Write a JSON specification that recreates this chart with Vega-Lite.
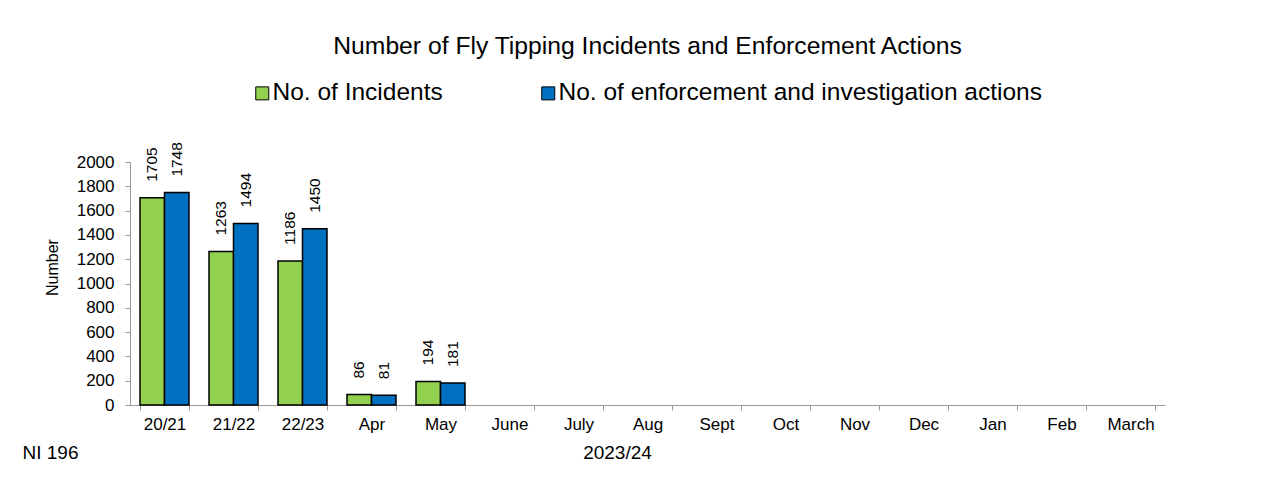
{
  "$schema": "https://vega.github.io/schema/vega-lite/v6.json",
  "width": 1035,
  "height": 243,
  "autosize": {"type": "none"},
  "padding": {"left": 130, "top": 162, "right": 117, "bottom": 80},
  "background": "white",
  "config": {
    "font": "Liberation Sans",
    "view": {"stroke": null},
    "axis": {"labelColor": "black", "titleColor": "black", "titleFontWeight": "normal", "domainColor": "#999999", "tickColor": "#999999", "grid": false}
  },
  "title": {"text": "Number of Fly Tipping Incidents and Enforcement Actions", "fontSize": 24.7, "fontWeight": "normal", "color": "black", "anchor": "middle", "frame": "group", "offset": 22},
  "data": {"values": [
    {"period": "20/21", "series": "No. of Incidents", "value": 1705},
    {"period": "20/21", "series": "No. of enforcement and investigation actions", "value": 1748},
    {"period": "21/22", "series": "No. of Incidents", "value": 1263},
    {"period": "21/22", "series": "No. of enforcement and investigation actions", "value": 1494},
    {"period": "22/23", "series": "No. of Incidents", "value": 1186},
    {"period": "22/23", "series": "No. of enforcement and investigation actions", "value": 1450},
    {"period": "Apr", "series": "No. of Incidents", "value": 86},
    {"period": "Apr", "series": "No. of enforcement and investigation actions", "value": 81},
    {"period": "May", "series": "No. of Incidents", "value": 194},
    {"period": "May", "series": "No. of enforcement and investigation actions", "value": 181}
  ]},
  "layer": [
    {
      "encoding": {
        "x": {"field": "period", "type": "nominal", "sort": null,
          "scale": {"domain": ["20/21", "21/22", "22/23", "Apr", "May", "June", "July", "Aug", "Sept", "Oct", "Nov", "Dec", "Jan", "Feb", "March"], "paddingInner": 0.29, "paddingOuter": 0.145},
          "axis": {"labelAngle": 0, "labelFontSize": 17, "tickBand": "extent", "tickSize": 5, "labelPadding": 6, "title": "2023/24", "titleFontSize": 19, "titleX": 487, "titleY": 47, "titleBaseline": "middle", "titleAlign": "center"}},
        "xOffset": {"field": "series", "type": "nominal", "sort": ["No. of Incidents", "No. of enforcement and investigation actions"], "scale": {"paddingInner": 0}},
        "y": {"field": "value", "type": "quantitative", "scale": {"domain": [0, 2000], "nice": false},
          "axis": {"values": [0, 200, 400, 600, 800, 1000, 1200, 1400, 1600, 1800, 2000], "format": "d", "labelFontSize": 17, "tickSize": 5, "labelPadding": 11, "title": "Number", "titleFontSize": 16, "titleX": -78, "titleY": 105, "titleAngle": 270, "titleAlign": "center", "titleBaseline": "middle"}}
      },
      "layer": [
        {
          "mark": {"type": "bar", "stroke": "black", "strokeWidth": 1.5},
          "encoding": {
            "color": {"field": "series", "type": "nominal", "sort": ["No. of Incidents", "No. of enforcement and investigation actions"],
              "scale": {"range": ["#92D050", "#0070C0"]},
              "legend": {"title": null, "orient": "none", "direction": "horizontal", "legendX": 120, "legendY": -81, "labelFontSize": 24.5, "labelColor": "black", "labelLimit": 700, "symbolType": "square", "symbolSize": 169, "symbolStrokeColor": "black", "symbolStrokeWidth": 1, "symbolOpacity": 1, "labelOffset": -2, "columnPadding": 93}}
          }
        },
        {
          "mark": {"type": "text", "angle": 270, "align": "left", "baseline": "middle", "dx": 16, "fontSize": 15.5, "color": "black"},
          "encoding": {
            "text": {"field": "value", "type": "quantitative"}
          }
        }
      ]
    },
    {
      "data": {"values": [{"v": 0}]},
      "mark": {"type": "rule", "opacity": 0},
      "encoding": {
        "y": {"field": "v", "type": "quantitative",
          "axis": {"orient": "right", "labels": false, "ticks": false, "domain": false, "title": "NI 196", "titleFontSize": 19, "titleAngle": 0, "titleAlign": "left", "titleBaseline": "middle", "titleX": -1143, "titleY": 290}}
      }
    }
  ],
  "resolve": {"scale": {"y": "independent"}}
}
